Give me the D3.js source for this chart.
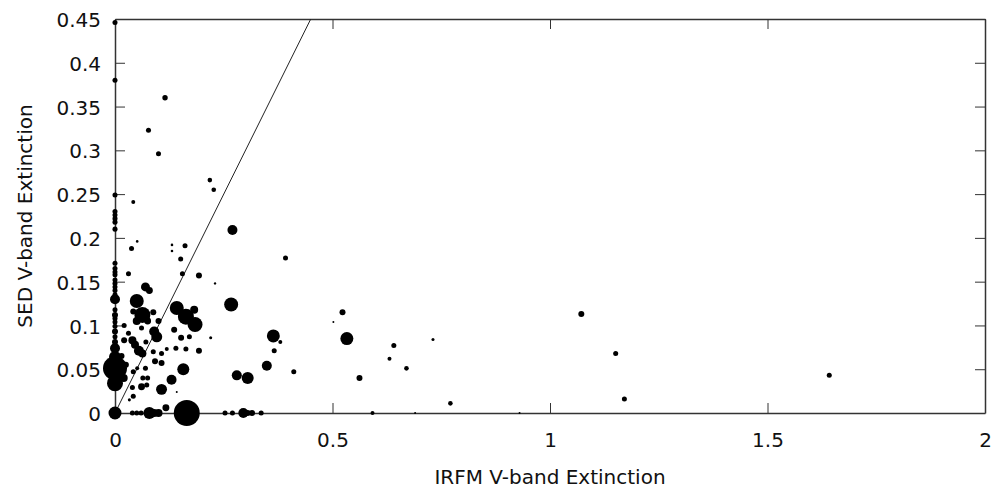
<!DOCTYPE html>
<html>
<head>
<meta charset="utf-8">
<script src="https://cdn.jsdelivr.net/npm/d3@7"></script>
<style>
  body { margin: 0; background: #fff; }
  svg { display: block; }
  text { font-family: "DejaVu Sans", sans-serif; }
</style>
</head>
<body>
<div id="chart"></div>
<script>
// IRFM extinction (x), SED extinction (y) and a per-star weight shown as marker area
const irfm = [
  0, 0, 0.115, 0.077, 0.100, 0.218, 0.227, 0, 0.042, 0, 0, 0, 0, 0,
  0.051, 0.038, 0.131, 0.131, 0.161, 0.151, 0.270, 0.392, 0.155, 0.193, 0.031, 0.230,
  0.070, 0.079, 0.267, 0, 0.050, 0.063, 0.142, 0.163, 0.184, 0.182, 0.088, 0.042,
  0.061, 0.090, 0.096, 0.136, 0.021, 0.152, 0.171, 0.220, 0.031, 0.040, 0.046, 0.055,
  0.063, 0.071, 0.088, 0.107, 0.119, 0.140, 0.163, 0.193, 0.364, 0.380, 0.366, 0.349,
  0.411, 0.280, 0.305, 0.157, 0.130, 0.107, 0.092, 0.107, 0.070, 0.051, 0.042, 0.064,
  0.075, 0.061, 0.040, 0.042, 0.033, 0.073, 0.142, 0, 0, 0, 0,
  0, 0.040, 0.050, 0.060, 0.079, 0.090, 0.100, 0.117, 0.165, 0.253, 0.270, 0.295,
  0.305, 0.315, 0.336, 0.523, 0.502, 0.533, 0.641, 0.631, 0.670, 0.731, 0.562, 0.771,
  0.592, 0.690, 0.930, 1.072, 1.151, 1.171, 1.642,
  0, 0, 0, 0, 0, 0, 0, 0, 0, 0, 0, 0, 0, 0, 0, 0, 0, 0, 0,
  0.021, 0.025, 0.020, 0.015, 0.050, 0.075, 0.100
];
const sed = [
  0.446, 0.380, 0.360, 0.323, 0.296, 0.266, 0.255, 0.249, 0.241, 0.230, 0.226, 0.222, 0.218, 0.210,
  0.196, 0.188, 0.192, 0.185, 0.191, 0.176, 0.209, 0.177, 0.159, 0.157, 0.159, 0.148,
  0.144, 0.140, 0.124, 0.130, 0.128, 0.112, 0.120, 0.110, 0.101, 0.118, 0.115, 0.116,
  0.097, 0.093, 0.087, 0.095, 0.100, 0.086, 0.087, 0.086, 0.091, 0.083, 0.078, 0.071,
  0.068, 0.081, 0.070, 0.068, 0.073, 0.074, 0.073, 0.071, 0.088, 0.081, 0.071, 0.054,
  0.047, 0.043, 0.040, 0.050, 0.038, 0.027, 0.059, 0.057, 0.051, 0.051, 0.047, 0.040,
  0.040, 0.030, 0.029, 0.019, 0.015, 0.032, 0.024, 0.051, 0.034, 0.064, 0.074,
  0, 0, 0, 0, 0, 0, 0, 0.006, 0, 0, 0, 0,
  0, 0, 0, 0.115, 0.104, 0.085, 0.077, 0.062, 0.051, 0.084, 0.040, 0.011,
  0, 0, 0, 0.113, 0.068, 0.016, 0.043,
  0.171, 0.165, 0.161, 0.158, 0.152, 0.148, 0.144, 0.140, 0.135, 0.118, 0.112, 0.108,
  0.104, 0.099, 0.093, 0.087, 0.081, 0.076, 0.070,
  0.083, 0.055, 0.040, 0.065, 0.105, 0.105, 0.105
];
const weight = [
  6.3, 6.3, 7.3, 6.3, 6.3, 5.3, 5.3, 6.3, 4, 6.3, 6.3, 6.3, 6.3, 6.3,
  1.7, 6.3, 1.7, 1.7, 6.3, 6.3, 25, 6.3, 6.3, 9, 6.3, 1.4,
  20, 12, 49, 25, 49, 64, 49, 64, 56, 16, 9, 9,
  6.3, 25, 30, 9, 6.3, 9, 6.3, 2.3, 6.3, 16, 16, 25,
  16, 6.3, 6.3, 6.3, 4, 6.3, 6.3, 9, 42, 4, 6.3, 25,
  6.3, 25, 36, 36, 25, 30, 9, 9, 6.3, 4, 6.3, 6.3,
  6.3, 12, 6.3, 6.3, 2.3, 6.3, 1, 144, 64, 36, 25,
  42, 6.3, 6.3, 6.3, 36, 16, 16, 12, 169, 6.3, 6.3, 25,
  9, 9, 6.3, 9, 1, 42, 6.3, 4, 5.3, 2.3, 9, 5.3,
  4, 1, 1, 9, 6.3, 6.3, 6.3,
  6.3, 6.3, 6.3, 6.3, 6.3, 6.3, 6.3, 6.3, 6.3, 6.3, 9, 6.3,
  6.3, 6.3, 9, 6.3, 9, 9, 9,
  9, 9, 16, 9, 16, 12, 9
];
const xTicks = [0, 0.5, 1, 1.5, 2];
const yTicks = [0, 0.05, 0.1, 0.15, 0.2, 0.25, 0.3, 0.35, 0.4, 0.45];

const W = 998, H = 493;
const margin = { top: 19, right: 13, bottom: 80, left: 115 };
const iw = W - margin.left - margin.right;
const ih = H - margin.top - margin.bottom;

const svg = d3.select("#chart").append("svg")
  .attr("width", W)
  .attr("height", H);

const g = svg.append("g")
  .attr("transform", `translate(${margin.left},${margin.top})`);

const x = d3.scaleLinear().domain([0, 2]).range([0, iw]);
const y = d3.scaleLinear().domain([0, 0.45]).range([ih, 0]);
const r = d3.scaleSqrt().domain([0, 169]).range([0, 13]);

const fmt = d => String(+d.toFixed(2));

// frame with inward ticks on all four sides
const axisColor = "#333";
const axBottom = g.append("g").attr("transform", `translate(0,${ih})`)
  .call(d3.axisBottom(x).tickValues(xTicks).tickFormat(fmt).tickSizeInner(-10).tickSizeOuter(0).tickPadding(20));
const axTop = g.append("g")
  .call(d3.axisTop(x).tickValues(xTicks).tickFormat("").tickSizeInner(-10).tickSizeOuter(0));
const axLeft = g.append("g")
  .call(d3.axisLeft(y).tickValues(yTicks).tickFormat(fmt).tickSizeInner(-10).tickSizeOuter(0).tickPadding(14));
const axRight = g.append("g").attr("transform", `translate(${iw},0)`)
  .call(d3.axisRight(y).tickValues(yTicks).tickFormat("").tickSizeInner(-10).tickSizeOuter(0));

[axBottom, axTop, axLeft, axRight].forEach(a => {
  a.select(".domain").attr("stroke", axisColor).attr("stroke-width", 1.5);
  a.selectAll(".tick line").attr("stroke", axisColor).attr("stroke-width", 1);
  a.selectAll(".tick text").attr("fill", "#111").style("font-size", "20px");
});
axLeft.selectAll(".tick text").attr("dy", "0.38em");

// one-to-one line
g.append("line")
  .attr("x1", x(0)).attr("y1", y(0))
  .attr("x2", x(0.45)).attr("y2", y(0.45))
  .attr("stroke", "#222")
  .attr("stroke-width", 1);

// points
const pts = irfm.map((d, i) => ({ x: d, y: sed[i], w: weight[i] }));
g.append("g").selectAll("circle")
  .data(pts)
  .enter().append("circle")
  .attr("cx", d => x(d.x))
  .attr("cy", d => y(d.y))
  .attr("r", d => r(d.w))
  .attr("fill", "#000");

// axis titles
svg.append("text")
  .attr("x", margin.left + iw / 2)
  .attr("y", 484)
  .attr("text-anchor", "middle")
  .style("font-size", "20px")
  .attr("fill", "#111")
  .text("IRFM V-band Extinction");

svg.append("text")
  .attr("transform", `translate(32,${margin.top + ih / 2}) rotate(-90)`)
  .attr("text-anchor", "middle")
  .style("font-size", "20px")
  .attr("fill", "#111")
  .text("SED V-band Extinction");
</script>
</body>
</html>
